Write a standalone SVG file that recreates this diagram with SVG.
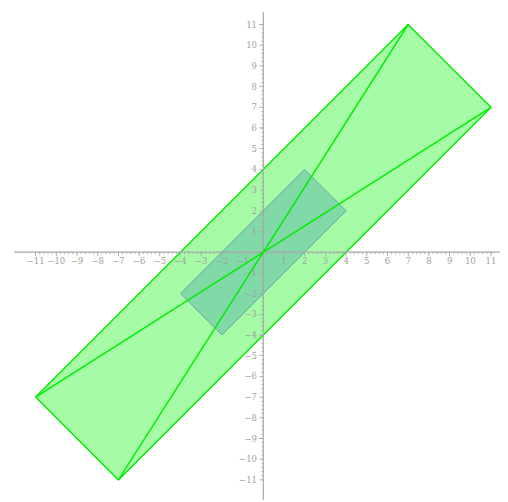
<svg xmlns="http://www.w3.org/2000/svg" width="508" height="502" viewBox="0 0 508 502">
<style>
.lbl{font-family:"DejaVu Serif","Liberation Serif",serif;font-size:8.5px;fill:#a0a0a0}
.xl{text-anchor:middle}
.yl{text-anchor:end}
.axis{stroke:#a8a8a8;stroke-width:1.2;fill:none}
</style>
<rect width="508" height="502" fill="#ffffff"/>
<g id="big-rect">
<polygon points="408.2,24.5 491,107.3 118.4,479.9 35.6,397.1" fill="#a6fba6" stroke="#00ee00" stroke-width="1.4" stroke-linejoin="round"/>
</g>
<g id="small-rect">
<polygon points="304.7,169.4 346.1,210.8 221.9,335 180.5,293.6" fill="#80d9a6" stroke="#68a8a4" stroke-width="1"/>
</g>
<g id="axes">
<line class="axis" x1="14" y1="252.2" x2="500" y2="252.2"/>
<line class="axis" x1="263.3" y1="12" x2="263.3" y2="500"/>
<line x1="35.2" y1="254.2" x2="491.6" y2="254.2" stroke="#a8a8a8" stroke-width="4" stroke-dasharray="0.8 19.9"/>
<line x1="35.2" y1="253.2" x2="491.6" y2="253.2" stroke="#a8a8a8" stroke-width="2" stroke-dasharray="0.8 3.34"/>
<line x1="261.3" y1="24.1" x2="261.3" y2="480.4" stroke="#a8a8a8" stroke-width="4" stroke-dasharray="0.8 19.9"/>
<line x1="262.3" y1="24.1" x2="262.3" y2="480.4" stroke="#a8a8a8" stroke-width="2" stroke-dasharray="0.8 3.34"/>
</g>
<g id="x-labels" class="lbl xl">
<text x="35.6" y="264">−11</text>
<text x="56.3" y="264">−10</text>
<text x="77" y="264">−9</text>
<text x="97.7" y="264">−8</text>
<text x="118.4" y="264">−7</text>
<text x="139.1" y="264">−6</text>
<text x="159.8" y="264">−5</text>
<text x="180.5" y="264">−4</text>
<text x="201.2" y="264">−3</text>
<text x="221.9" y="264">−2</text>
<text x="242.6" y="264">−1</text>
<text x="284" y="264">1</text>
<text x="304.7" y="264">2</text>
<text x="325.4" y="264">3</text>
<text x="346.1" y="264">4</text>
<text x="366.8" y="264">5</text>
<text x="387.5" y="264">6</text>
<text x="408.2" y="264">7</text>
<text x="428.9" y="264">8</text>
<text x="449.6" y="264">9</text>
<text x="470.3" y="264">10</text>
<text x="491" y="264">11</text>
</g>
<g id="y-labels" class="lbl yl">
<text x="257" y="234.5">1</text>
<text x="257" y="213.8">2</text>
<text x="257" y="193.1">3</text>
<text x="257" y="172.4">4</text>
<text x="257" y="151.7">5</text>
<text x="257" y="131">6</text>
<text x="257" y="110.3">7</text>
<text x="257" y="89.6">8</text>
<text x="257" y="68.9">9</text>
<text x="257" y="48.2">10</text>
<text x="257" y="27.5">11</text>
<text x="257" y="275.9">−1</text>
<text x="257" y="296.6">−2</text>
<text x="257" y="317.3">−3</text>
<text x="257" y="338">−4</text>
<text x="257" y="358.7">−5</text>
<text x="257" y="379.4">−6</text>
<text x="257" y="400.1">−7</text>
<text x="257" y="420.8">−8</text>
<text x="257" y="441.5">−9</text>
<text x="257" y="462.2">−10</text>
<text x="257" y="482.9">−11</text>
</g>
<g id="connectors" stroke="#00ee00" stroke-width="1.4" fill="none">
<line x1="408.2" y1="24.5" x2="118.4" y2="479.9"/>
<line x1="491" y1="107.3" x2="35.6" y2="397.1"/>
</g>
</svg>
